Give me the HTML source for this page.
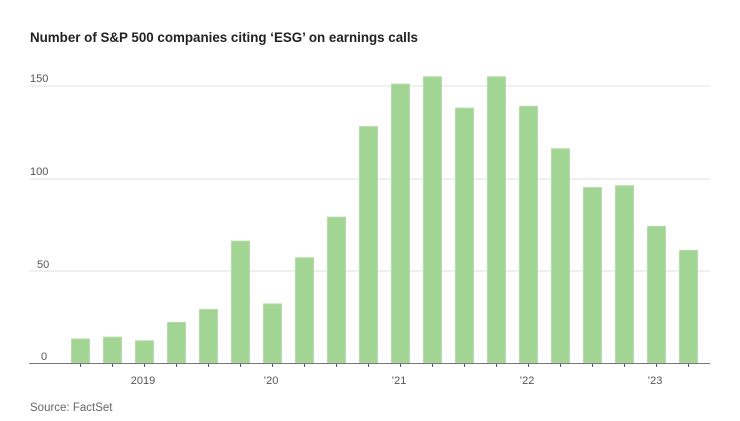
<!DOCTYPE html>
<html><head><style>body{margin:0;background:#fff}svg{display:block}</style></head><body>
<svg width="740" height="421" xmlns="http://www.w3.org/2000/svg" font-family="Liberation Sans, sans-serif">
<text x="30" y="42" font-size="14" font-weight="bold" fill="#222" textLength="388" lengthAdjust="spacingAndGlyphs">Number of S&amp;P 500 companies citing ‘ESG’ on earnings calls</text>
<g stroke="#ececec" stroke-width="1.5">
<line x1="29" y1="86" x2="710" y2="86"/><line x1="29" y1="179" x2="710" y2="179"/><line x1="29" y1="271" x2="710" y2="271"/>
</g>
<g font-size="11" fill="#555">
<text x="30" y="82">150</text><text x="30" y="175">100</text><text x="37" y="268">50</text><text x="41" y="360">0</text>
</g>
<g id="bars" fill="#a2d493" stroke="#b6dda9" stroke-width="1"></g>
<line x1="29" y1="363.5" x2="710" y2="363.5" stroke="#777" stroke-width="1"/>
<g id="ticks" stroke="#555" stroke-width="1"></g>
<g font-size="11" fill="#555" text-anchor="middle">
<text x="143" y="384">2019</text><text x="271" y="384">’20</text><text x="399" y="384">’21</text><text x="527" y="384">’22</text><text x="655" y="384">’23</text>
</g>
<text x="30" y="411" font-size="11.5" fill="#666">Source: FactSet</text>
<script>
var v=[13,14,12,22,29,66,32,57,79,128,151,155,138,155,139,116,95,96,74,61];
var b=document.getElementById('bars'),t=document.getElementById('ticks'),ns='http://www.w3.org/2000/svg';
v.forEach(function(d,i){var x=71+32*i,h=d*1.847;var r=document.createElementNS(ns,'rect');
r.setAttribute('x',x+0.5);r.setAttribute('y',363-h);r.setAttribute('width',18);r.setAttribute('height',h);b.appendChild(r);
var l=document.createElementNS(ns,'line');l.setAttribute('x1',x+9.5);l.setAttribute('x2',x+9.5);l.setAttribute('y1',364);l.setAttribute('y2',367);t.appendChild(l);});
</script>
</svg>
</body></html>
